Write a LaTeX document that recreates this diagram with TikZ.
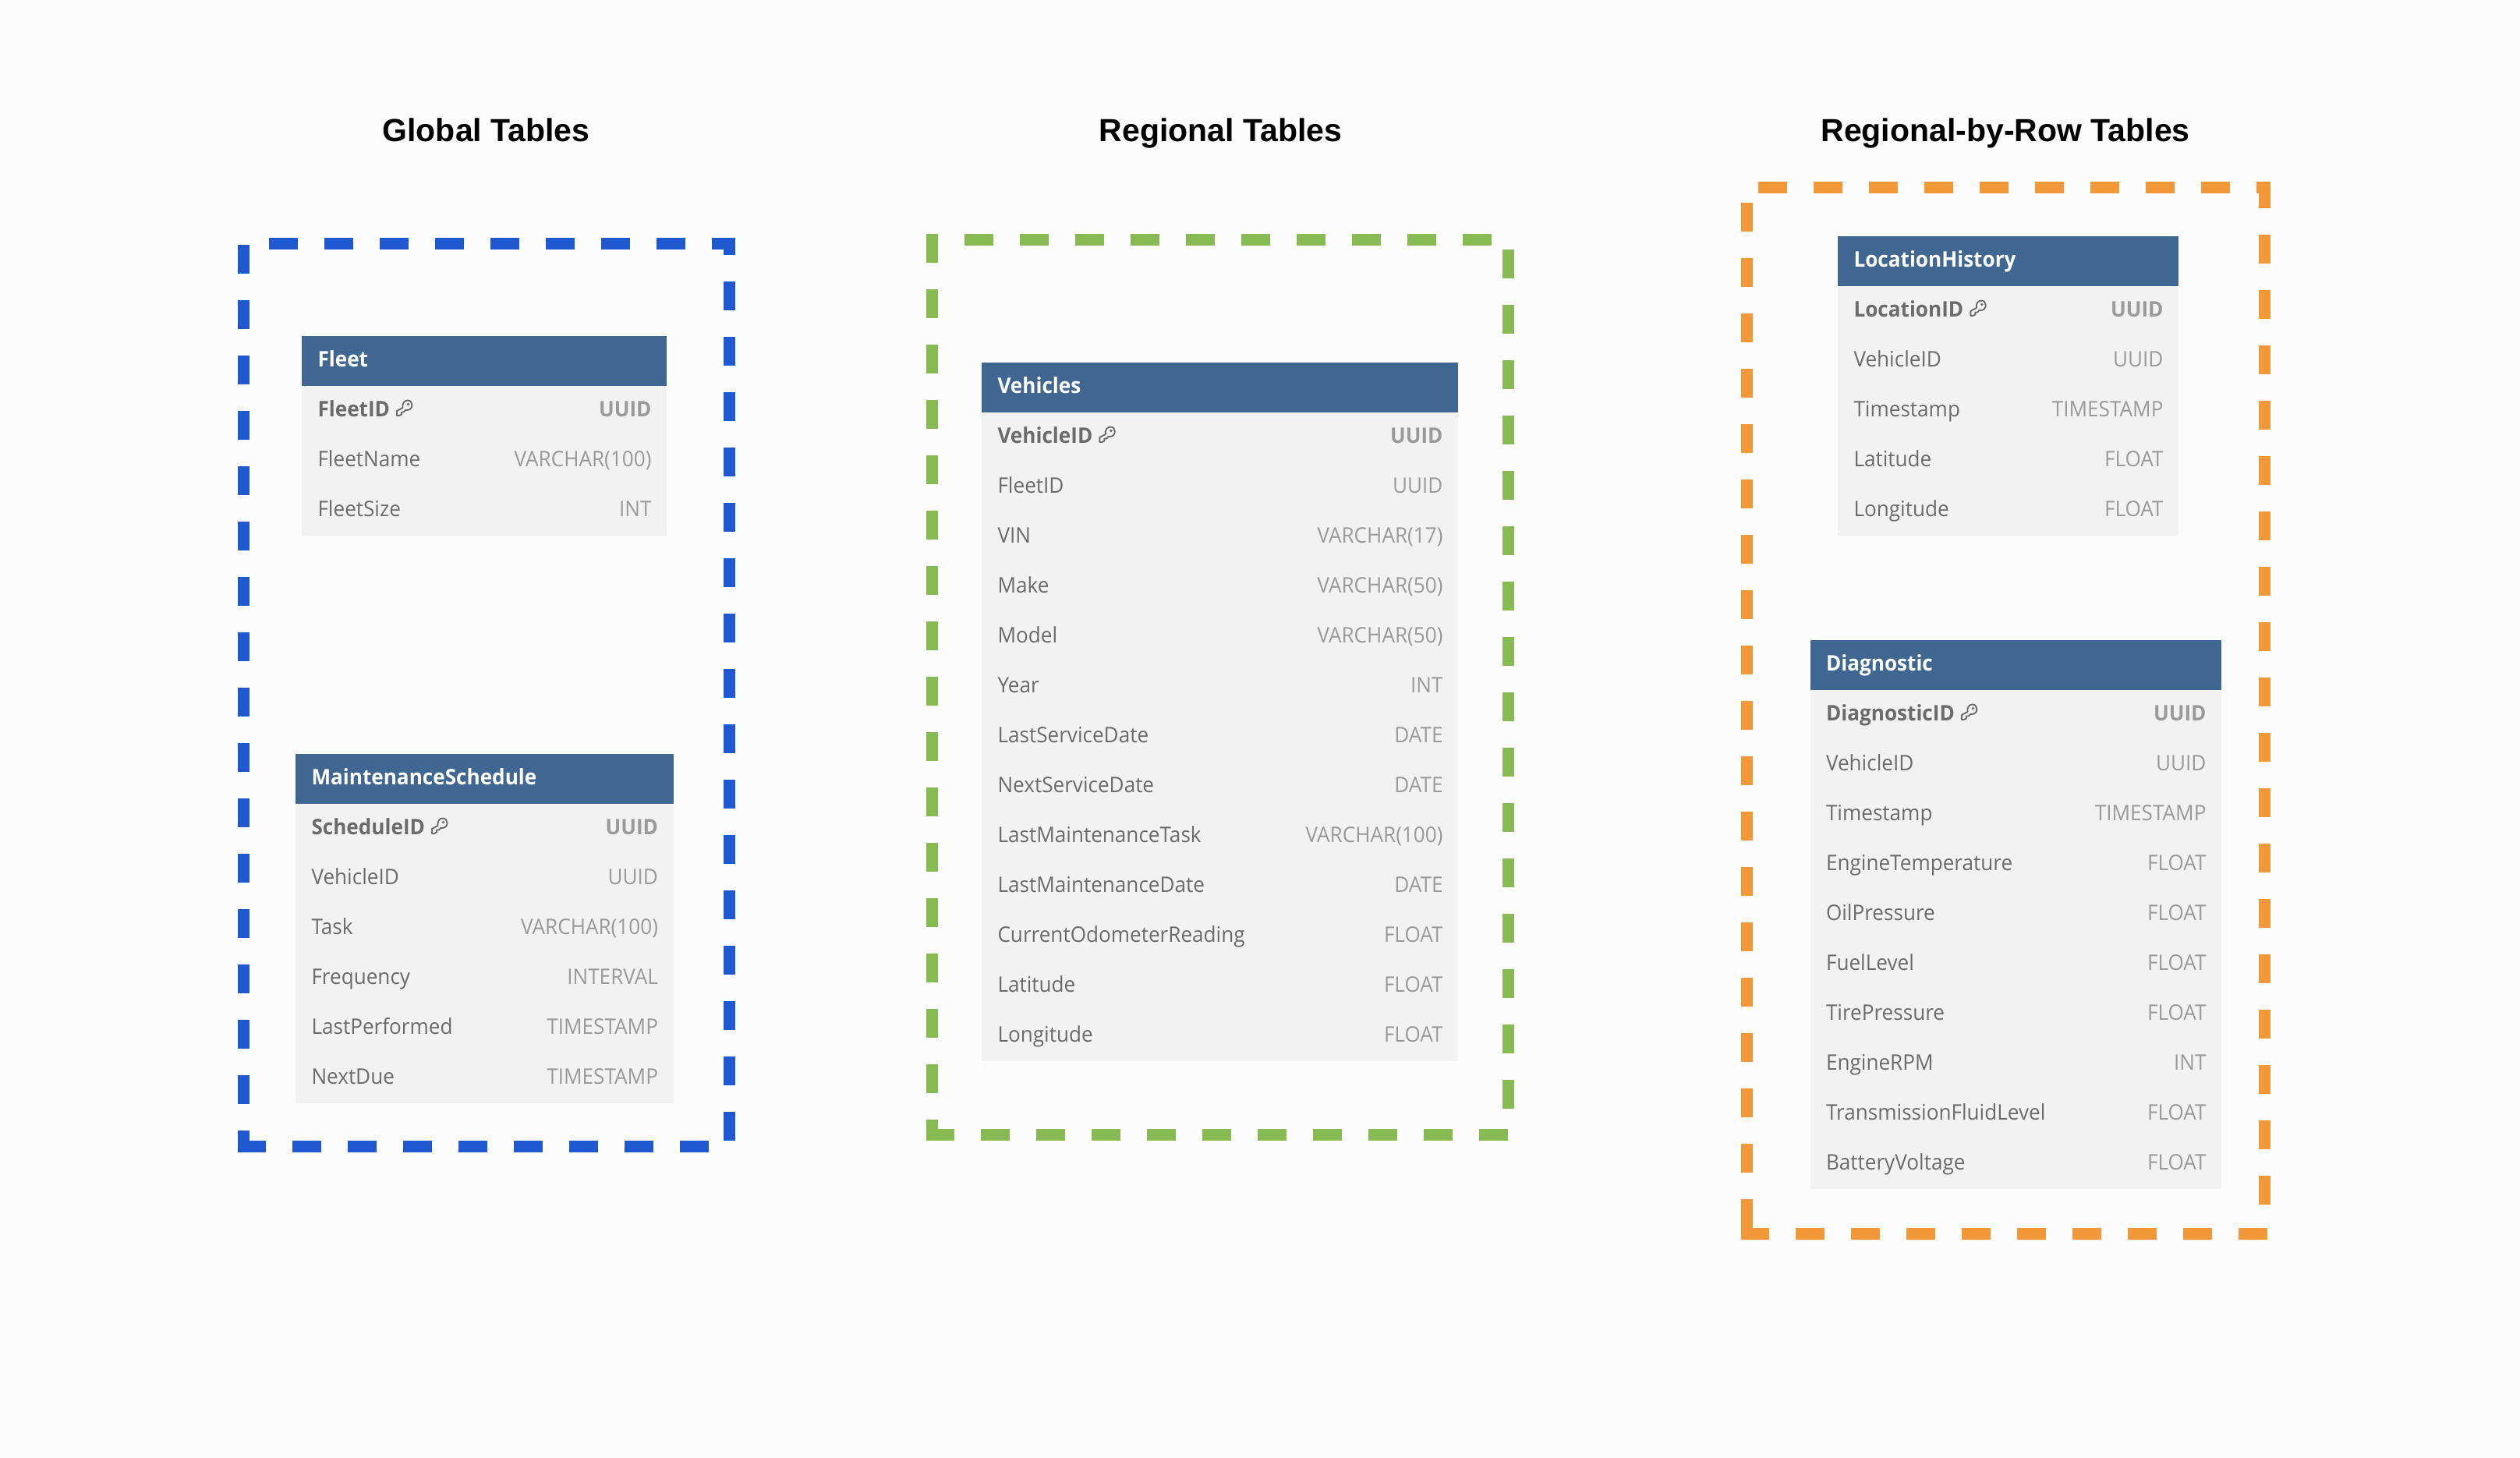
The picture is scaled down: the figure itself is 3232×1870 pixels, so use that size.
\documentclass[tikz,border=0pt]{standalone}
\usepackage{fontspec}
\setmainfont{Open Sans}[FakeStretch=0.95]
\newfontfamily\titlefont{Liberation Sans}[BoldFont={Liberation Sans Bold}]
\definecolor{pagebg}{HTML}{FCFCFC}
\definecolor{hdrblue}{HTML}{3F6791}
\definecolor{bodygrey}{HTML}{F2F2F2}
\definecolor{nametxt}{HTML}{6B6B6B}
\definecolor{typetxt}{HTML}{9A9A9A}
\definecolor{frameblue}{HTML}{1F58D0}
\definecolor{framegreen}{HTML}{88BA54}
\definecolor{frameorange}{HTML}{F39838}
\tikzset{
  x=1pt,y=-1pt,
  framedash/.style={line width=15pt,line cap=butt,dash pattern=on 37pt off 34pt},
  hdrbox/.style={anchor=north west,fill=hdrblue,inner sep=0pt,outer sep=0pt,minimum height=64pt},
  bodybox/.style={anchor=north west,fill=bodygrey,inner sep=0pt,outer sep=0pt},
  tabletext/.style={inner sep=0pt,outer sep=0pt,font=\fontsize{27.5}{33}\selectfont},
  hdrtext/.style={tabletext,anchor=base west,text=white,font=\fontsize{27.5}{33}\selectfont\bfseries},
  nametext/.style={tabletext,anchor=base west,text=nametxt},
  typetext/.style={tabletext,anchor=base east,text=typetxt},
  titletext/.style={anchor=base,text=black,inner sep=0pt,font=\titlefont\bfseries\fontsize{41}{50}\selectfont},
  keyicon/.pic={
    \draw[nametxt,line width=1.9pt,line join=round,fill=bodygrey]
      (8.5,-11) .. controls (7.5,-17) and (11,-20.5) .. (15,-20.5)
      .. controls (18.5,-20.5) and (20.5,-17.5) .. (20.5,-14.5)
      .. controls (20.5,-10.5) and (17.5,-8) .. (14,-8)
      -- (12,-8) -- (10,-5.5) -- (7,-5.5) -- (7,-2.5) -- (4,-1) -- (1,-1)
      -- (1,-7) -- cycle;
    \fill[nametxt] (15.5,-15.5) circle[radius=1.9];
  }
}
% id, x1, x2, ytop, title, key field, key type, number of rows, other rows
\newcommand{\dbtable}[9]{%
  \pgfmathsetmacro{\tw}{#3-#2}%
  \pgfmathsetmacro{\bh}{64*#8}%
  \node[hdrbox,minimum width=\tw pt] (#1-head) at (#2,#4) {};
  \node[bodybox,minimum width=\tw pt,minimum height=\bh pt] (#1-body) at (#2,#4+64) {};
  \node[hdrtext] (#1-title) at (#2+20.5,#4+39) {#5};
  \node[nametext,font=\fontsize{27.5}{33}\selectfont\bfseries] (#1-keyname) at (#2+20.5,#4+103) {#6};
  \node[typetext,font=\fontsize{27.5}{33}\selectfont\bfseries] (#1-keytype) at (#3-19.5,#4+103) {#7};
  \pic at ([xshift=8pt]#1-keyname.base east) {keyicon};
  \foreach \nm/\ty [count=\ri] in {#9} {
    \node[nametext] (#1-name-\ri) at (#2+20.5,#4+103+64*\ri) {\nm};
    \node[typetext] (#1-type-\ri) at (#3-19.5,#4+103+64*\ri) {\ty};
  }
}
\begin{document}
\begin{tikzpicture}
\useasboundingbox (0,0) rectangle (3232,1870);
\fill[pagebg] (0,0) rectangle (3232,1870);

\node[titletext] (t-global) at (623.5,182) {Global Tables};
\node[titletext] (t-regional) at (1565.5,182) {Regional Tables};
\node[titletext] (t-row) at (2572,182) {Regional-by-Row Tables};

% blue frame
\draw[framedash,frameblue] (345,312.5) -- (943,312.5);
\draw[framedash,frameblue,dash phase=15pt] (935.5,305) -- (935.5,1463);
\draw[framedash,frameblue,dash phase=1pt] (305,1470.5) -- (909,1470.5);
\draw[framedash,frameblue] (312.5,314) -- (312.5,1478);
% green frame
\draw[framedash,framegreen] (1237,307.5) -- (1913,307.5);
\draw[framedash,framegreen] (1934.5,320) -- (1934.5,1422);
\draw[framedash,framegreen,dash phase=1pt] (1188,1455.5) -- (1934,1455.5);
\draw[framedash,framegreen] (1195.5,300) -- (1195.5,1463);
% orange frame
\draw[framedash,frameorange] (2255,240.5) -- (2912,240.5);
\draw[framedash,frameorange,dash phase=3pt] (2904.5,233) -- (2904.5,1545);
\draw[framedash,frameorange,dash phase=1pt] (2233,1582.5) -- (2908,1582.5);
\draw[framedash,frameorange] (2240.5,260) -- (2240.5,1590);

\dbtable{fleet}{387}{855}{431}{Fleet}{FleetID}{UUID}{3}{FleetName/VARCHAR(100),FleetSize/INT}
\dbtable{maint}{379}{863.5}{967}{MaintenanceSchedule}{ScheduleID}{UUID}{6}{VehicleID/UUID,Task/VARCHAR(100),Frequency/INTERVAL,LastPerformed/TIMESTAMP,NextDue/TIMESTAMP}
\dbtable{veh}{1259}{1870}{465}{Vehicles}{VehicleID}{UUID}{13}{FleetID/UUID,VIN/VARCHAR(17),Make/VARCHAR(50),Model/VARCHAR(50),Year/INT,LastServiceDate/DATE,NextServiceDate/DATE,LastMaintenanceTask/VARCHAR(100),LastMaintenanceDate/DATE,CurrentOdometerReading/FLOAT,Latitude/FLOAT,Longitude/FLOAT}
\dbtable{loc}{2357}{2794}{303}{LocationHistory}{LocationID}{UUID}{5}{VehicleID/UUID,Timestamp/TIMESTAMP,Latitude/FLOAT,Longitude/FLOAT}
\dbtable{diag}{2321.5}{2849}{821}{Diagnostic}{DiagnosticID}{UUID}{10}{VehicleID/UUID,Timestamp/TIMESTAMP,EngineTemperature/FLOAT,OilPressure/FLOAT,FuelLevel/FLOAT,TirePressure/FLOAT,EngineRPM/INT,TransmissionFluidLevel/FLOAT,BatteryVoltage/FLOAT}
\end{tikzpicture}
\end{document}
